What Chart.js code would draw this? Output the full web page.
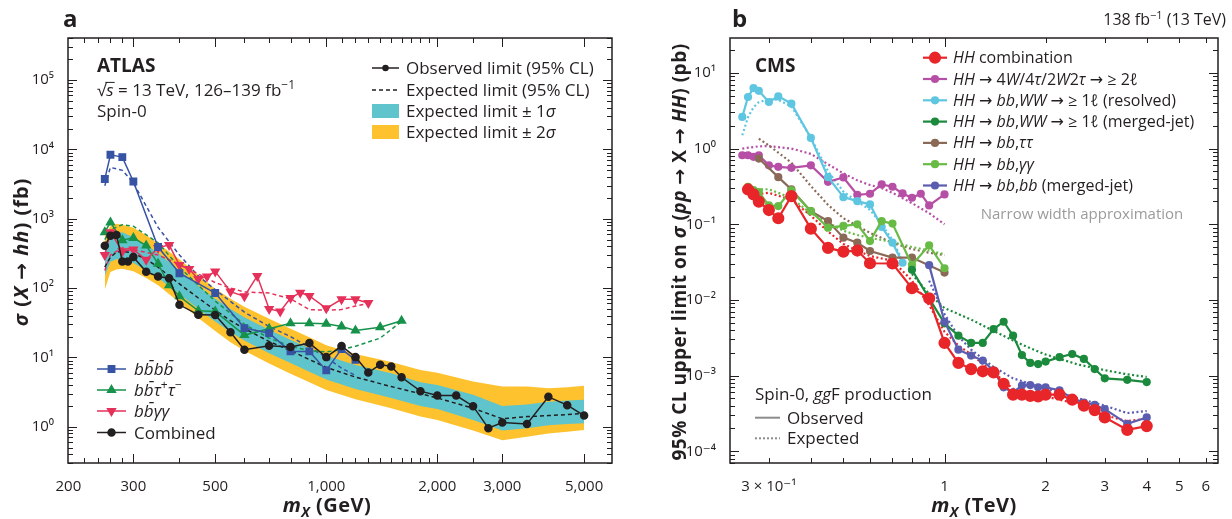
<!DOCTYPE html>
<html>
<head>
<meta charset="utf-8">
<script src="https://cdn.jsdelivr.net/npm/chart.js@4.4.1/dist/chart.umd.min.js"></script>
<style>
  body { margin: 0; background: #fff; }
  #wrap { position: relative; width: 1232px; height: 519px; }
  canvas { position: absolute; top: 0; }
  #cA { left: 0; }
  #cB { left: 640px; }
</style>
</head>
<body>
<div id="wrap">
  <canvas id="cA" width="640" height="519"></canvas>
  <canvas id="cB" width="592" height="519"></canvas>
</div>
<script>
const FONT = "'Open Sans', 'DejaVu Sans', sans-serif";
const INK = '#231f20';

// ---- panel a (ATLAS), mX in GeV, sigma in fb ----
const bandMass = [251, 260, 270, 280, 300, 325, 350, 400, 450, 500, 550, 600, 700, 800, 900, 1000, 1200, 1500, 1800, 2000, 2500, 3000, 3500, 4000, 4500, 5000];
const expCombined = [200, 280, 330, 340, 320, 260, 200, 115, 72, 48, 34, 26, 17, 12.5, 9.3, 7.2, 5.2, 3.8, 3.0, 2.6, 1.85, 1.3, 1.4, 1.45, 1.5, 1.55];
const sigma1Hi = [380, 520, 620, 640, 540, 420, 320, 180, 108, 70, 50, 38, 25, 18, 13.6, 10.6, 7.8, 5.9, 4.4, 4.0, 2.9, 2.0, 2.1, 2.3, 2.4, 2.45];
const sigma1Lo = [150, 240, 260, 260, 230, 180, 140, 82, 50, 33, 23, 17.5, 11.5, 8.3, 6.2, 4.8, 3.5, 2.6, 2.0, 1.8, 1.25, 0.88, 0.95, 1.05, 1.1, 1.12];
const sigma2Hi = [560, 780, 850, 820, 740, 580, 440, 260, 155, 98, 70, 54, 36, 26, 19.5, 15, 11.2, 8.6, 6.6, 6.0, 4.5, 3.8, 3.8, 3.6, 3.7, 3.9];
const sigma2Lo = [95, 170, 185, 190, 175, 140, 110, 62, 37, 24, 16.5, 12.5, 8.2, 5.8, 4.4, 3.4, 2.5, 1.85, 1.4, 1.25, 0.88, 0.64, 0.72, 0.8, 0.85, 0.9];

const combMass = [251, 260, 270, 280, 290, 300, 325, 350, 375, 400, 450, 500, 550, 600, 700, 800, 900, 1000, 1100, 1200, 1300, 1400, 1500, 1600, 1800, 2000, 2250, 2500, 2750, 3000, 3500, 4000, 4500, 5000];
const combObs = [407, 569, 582, 242, 242, 280, 172, 147, 139, 57.4, 41.2, 41, 23, 12.9, 14.7, 14.1, 16.1, 10.1, 14.6, 10.1, 6.05, 7.87, 7.39, 5.17, 3.26, 2.82, 2.82, 1.98, 0.955, 1.15, 1.1, 2.7, 2.05, 1.45];

const b4Mass = [251, 260, 280, 300, 350, 400, 500, 600, 700, 800, 900, 1000, 1100, 1200];
const b4Obs = [3740, 8380, 7760, 3450, 391, 164, 85, 26.5, 22.4, 12.2, 12.2, 6.5, 13.2, 9.2];
const b4ExpMass = [251, 260, 280, 300, 350, 400, 450, 500, 600, 700, 800, 900, 1000, 1100, 1200];
const b4Exp = [3000, 5500, 5000, 3300, 750, 300, 150, 95, 45, 28, 20, 14, 10, 7, 5.5];

const btMass = [251, 260, 280, 300, 325, 350, 375, 400, 450, 500, 600, 700, 800, 900, 1000, 1100, 1200, 1400, 1600];
const btObs = [640, 885, 490, 530, 410, 225, 110, 76, 47, 46, 21, 26, 31, 31, 30.5, 28, 24.4, 27.3, 33.7];
const btExpMass = [251, 260, 280, 300, 350, 400, 450, 500, 600, 700, 800, 900, 1000, 1100, 1200, 1400, 1600];
const btExp = [500, 700, 820, 780, 450, 200, 110, 65, 30, 19, 14.5, 12.5, 12, 13, 14.5, 19, 33];

const bgMass = [251, 260, 280, 300, 325, 350, 375, 400, 425, 450, 475, 500, 550, 600, 650, 700, 750, 800, 850, 900, 1000, 1100, 1200, 1300];
const bgObs = [300, 640, 340, 360, 256, 380, 420, 215, 188, 135, 147, 174, 89, 76, 150, 50, 46, 72, 86, 77, 51, 69, 69, 61];
const bgExpMass = [251, 260, 280, 300, 350, 400, 450, 500, 550, 600, 700, 800, 900, 1000, 1100, 1200, 1300];
const bgExp = [180, 300, 380, 360, 300, 220, 160, 120, 100, 88, 85, 70, 49, 48, 49, 55, 60];

const atlasXTicks = [200, 300, 500, 1000, 2000, 3000, 5000];
const atlasXMinor = [220, 240, 260, 280, 400, 600, 700, 800, 900, 1100, 1200, 1300, 1400, 1500, 1600, 1700, 1800, 1900, 2500];
const atlasYTicks = [1, 10, 100, 1000, 10000, 100000];

// ---- panel b (CMS), mX in TeV, sigma in pb ----
const hhMass = [0.26, 0.27, 0.28, 0.30, 0.32, 0.35, 0.40, 0.45, 0.50, 0.55, 0.60, 0.70, 0.80, 0.90, 1.0, 1.1, 1.2, 1.3, 1.4, 1.5, 1.6, 1.7, 1.8, 1.9, 2.0, 2.2, 2.4, 2.6, 2.8, 3.0, 3.5, 4.0];
const hhObs = [0.288, 0.248, 0.199, 0.154, 0.12, 0.235, 0.0875, 0.0487, 0.0435, 0.0449, 0.0305, 0.0303, 0.0143, 0.0105, 0.0027, 0.00147, 0.00122, 0.00114, 0.0011, 0.00078, 0.00056, 0.00056, 0.00054, 0.00053, 0.00056, 0.00056, 0.00048, 0.0004, 0.00035, 0.00028, 0.000192, 0.000215];
const hhExpMass = [0.26, 0.30, 0.35, 0.40, 0.45, 0.50, 0.55, 0.60, 0.70, 0.80, 0.90, 1.0, 1.1, 1.2, 1.4, 1.6, 1.8, 2.0, 2.5, 3.0, 3.5, 4.0];
const hhExp = [0.24, 0.26, 0.21, 0.13, 0.08, 0.055, 0.045, 0.038, 0.033, 0.018, 0.0085, 0.0038, 0.0025, 0.0019, 0.0011, 0.00067, 0.00058, 0.00053, 0.00042, 0.0003, 0.00025, 0.00027];

const mlMass = [0.25, 0.26, 0.27, 0.28, 0.30, 0.32, 0.35, 0.40, 0.45, 0.50, 0.55, 0.60, 0.65, 0.70, 0.75, 0.80, 0.85, 0.90, 1.0];
const mlObs = [0.816, 0.816, 0.777, 0.816, 0.6, 0.574, 0.557, 0.6, 0.364, 0.415, 0.245, 0.253, 0.336, 0.313, 0.255, 0.224, 0.253, 0.177, 0.248];
const mlExpMass = [0.25, 0.28, 0.30, 0.35, 0.40, 0.45, 0.50, 0.55, 0.60, 0.65, 0.70, 0.80, 0.90, 1.0];
const mlExp = [1.0, 1.07, 1.08, 1.0, 0.85, 0.62, 0.47, 0.38, 0.33, 0.3, 0.26, 0.19, 0.14, 0.1];

const rsMass = [0.25, 0.26, 0.27, 0.28, 0.30, 0.32, 0.35, 0.40, 0.45, 0.50, 0.55, 0.60, 0.65, 0.70, 0.75];
const rsObs = [2.62, 4.8, 6.3, 5.8, 4.12, 4.89, 3.92, 1.38, 0.419, 0.228, 0.202, 0.183, 0.092, 0.057, 0.031];
const rsExp = [1.5, 2.6, 3.5, 4.1, 4.5, 4.4, 3.6, 1.4, 0.5, 0.27, 0.2, 0.155, 0.1, 0.062, 0.033];

const mjMass = [0.8, 0.9, 1.0, 1.1, 1.2, 1.3, 1.4, 1.5, 1.6, 1.7, 1.8, 1.9, 2.0, 2.2, 2.4, 2.6, 2.8, 3.0, 3.5, 4.0];
const mjObs = [0.025, 0.0105, 0.0049, 0.00337, 0.0027, 0.0027, 0.00412, 0.00515, 0.00337, 0.00187, 0.00147, 0.00142, 0.00153, 0.00175, 0.00193, 0.00166, 0.00122, 0.00092, 0.00088, 0.00082];
const mjExpMass = [0.8, 0.9, 1.0, 1.2, 1.4, 1.6, 1.8, 2.0, 2.5, 3.0, 3.5, 4.0];
const mjExp = [0.022, 0.012, 0.0078, 0.0055, 0.0039, 0.0029, 0.0023, 0.0019, 0.0014, 0.00118, 0.00104, 0.00096];

const ttMass = [0.28, 0.32, 0.35, 0.40, 0.45, 0.50, 0.55, 0.60, 0.70, 0.80, 1.0];
const ttObs = [0.738, 0.419, 0.288, 0.149, 0.11, 0.0665, 0.0571, 0.0443, 0.0363, 0.0363, 0.023];
const ttExpMass = [0.28, 0.30, 0.35, 0.40, 0.45, 0.50, 0.55, 0.60, 0.70, 0.80, 0.90, 1.0];
const ttExp = [1.35, 1.1, 0.65, 0.32, 0.18, 0.12, 0.095, 0.077, 0.057, 0.047, 0.042, 0.039];

const ggMass = [0.26, 0.27, 0.28, 0.30, 0.32, 0.35, 0.40, 0.45, 0.50, 0.55, 0.60, 0.65, 0.70, 0.80, 0.90, 1.0];
const ggObs = [0.313, 0.282, 0.266, 0.177, 0.174, 0.28, 0.149, 0.09, 0.095, 0.0997, 0.06, 0.11, 0.102, 0.029, 0.0527, 0.0262];
const ggExp = [0.27, 0.29, 0.29, 0.29, 0.26, 0.22, 0.14, 0.105, 0.082, 0.072, 0.066, 0.062, 0.058, 0.05, 0.045, 0.04];

const bbMass = [0.9, 1.0, 1.1, 1.2, 1.3, 1.4, 1.5, 1.6, 1.7, 1.8, 1.9, 2.0, 2.2, 2.4, 2.6, 2.8, 3.0, 3.5, 4.0];
const bbObs = [0.0288, 0.00515, 0.0022, 0.00184, 0.00158, 0.00116, 0.0007, 0.0006, 0.00074, 0.00075, 0.0007, 0.0007, 0.00064, 0.0005, 0.00044, 0.00041, 0.00036, 0.00023, 0.00028];
const bbExpMass = [0.9, 1.0, 1.1, 1.2, 1.4, 1.6, 1.8, 2.0, 2.5, 3.0, 3.5, 4.0];
const bbExp = [0.018, 0.0065, 0.0033, 0.0022, 0.0013, 0.00092, 0.00078, 0.00068, 0.0005, 0.0004, 0.00032, 0.00034];

const cmsXTicks = [0.3, 1, 2, 3, 4, 5, 6];
const cmsXMinor = [0.4, 0.5, 0.6, 0.7, 0.8, 0.9];
const cmsYTicks = [1e-4, 1e-3, 1e-2, 1e-1, 1, 10];

// colours
const C = {
  blue: '#3653a4', green: '#17924a', pink: '#e5315a', cyanBand: '#5fc4cb', yellowBand: '#fdc22e',
  red: '#e8262a', magenta: '#b64fa5', cyan: '#5ec6e0', dkgreen: '#1b8a3c', brown: '#8a6a57', ltgreen: '#68bb45', purple: '#5b5db0'
};

Chart.defaults.font.family = FONT;
Chart.defaults.color = INK;

const xy = (xs, ys) => xs.map((x, i) => ({ x, y: ys[i] }));
const SUP = { '0': '⁰', '1': '¹', '2': '²', '3': '³', '4': '⁴', '5': '⁵', '6': '⁶', '7': '⁷', '8': '⁸', '9': '⁹', '-': '⁻' };
const pow10 = v => '10' + String(Math.round(Math.log10(v))).split('').map(c => SUP[c]).join('');
const gev = v => v >= 1000 ? v.toLocaleString('en-US') : String(v);

//Rich text: segments of [text, flags]; b bold, i italic, ^ sup, _ sub, o overline
function drawRich(ctx, segs, x, y, size, align, color, spacing) {
  const fontOf = f => `${f.includes('i') ? 'italic ' : ''}${f.includes('b') ? 'bold ' : ''}${(f.includes('^') || f.includes('_')) ? Math.round(size * 0.68) : size}px ${FONT}`;
  ctx.save();
  ctx.letterSpacing = (spacing || 0) + 'px';
  let w = 0;
  segs.forEach(([t, f = '']) => { ctx.font = fontOf(f); w += ctx.measureText(t).width; });
  let cx = align === 'center' ? x - w / 2 : align === 'right' ? x - w : x;
  ctx.fillStyle = color || INK;
  ctx.strokeStyle = color || INK;
  ctx.textAlign = 'left';
  ctx.textBaseline = 'alphabetic';
  segs.forEach(([t, f = '']) => {
    ctx.font = fontOf(f);
    const dy = f.includes('^') ? -size * 0.4 : f.includes('_') ? size * 0.25 : 0;
    ctx.fillText(t, cx, y + dy);
    const tw = ctx.measureText(t).width;
    if (f.includes('o')) {
      ctx.lineWidth = 1;
      ctx.beginPath(); ctx.moveTo(cx - 1, y - size * 0.8); ctx.lineTo(cx + tw + 1, y - size * 0.8); ctx.stroke();
    }
    cx += tw;
  });
  ctx.restore();
}

function rotated(ctx, segs, x, y, size, spacing) {
  ctx.save();
  ctx.translate(x, y);
  ctx.rotate(-Math.PI / 2);
  drawRich(ctx, segs, 0, size * 0.35, size, 'center', INK, spacing);
  ctx.restore();
}

function symbol(ctx, x1, x2, y, color, o) {
  ctx.save();
  ctx.strokeStyle = color; ctx.fillStyle = color; ctx.lineWidth = o.w || 1.5;
  ctx.setLineDash(o.dash || []);
  ctx.beginPath(); ctx.moveTo(x1, y); ctx.lineTo(x2, y); ctx.stroke();
  ctx.setLineDash([]);
  if (o.point) Chart.helpers.drawPoint(ctx, { pointStyle: o.point, radius: o.r, rotation: o.rot || 0, borderWidth: 1 }, (x1 + x2) / 2, y);
  ctx.restore();
}

function drawFrame(chart, xMajor, xMinor) {
  const { ctx, chartArea: a, scales: { x, y } } = chart;
  ctx.save();
  ctx.strokeStyle = INK; ctx.lineWidth = 1;
  ctx.beginPath();
  const vx = (v, len) => { const p = Math.round(x.getPixelForValue(v)) + 0.5; ctx.moveTo(p, a.bottom); ctx.lineTo(p, a.bottom - len); ctx.moveTo(p, a.top); ctx.lineTo(p, a.top + len); };
  const hy = (v, len) => { const p = Math.round(y.getPixelForValue(v)) + 0.5; ctx.moveTo(a.left, p); ctx.lineTo(a.left + len, p); ctx.moveTo(a.right, p); ctx.lineTo(a.right - len, p); };
  xMajor.forEach(v => vx(v, 9));
  xMinor.forEach(v => vx(v, 5));
  const lo = Math.floor(Math.log10(y.min)), hi = Math.ceil(Math.log10(y.max));
  for (let d = lo; d <= hi; d++) {
    for (let k = 1; k <= 9; k++) {
      const v = k * Math.pow(10, d);
      if (v > y.min && v < y.max) hy(v, k === 1 ? 9 : 5);
    }
  }
  ctx.stroke();
  ctx.lineWidth = 1.5;
  ctx.strokeRect(a.left, a.top, a.right - a.left, a.bottom - a.top);
  ctx.restore();
}

function logScales(o) {
  return {
    x: {
      type: 'logarithmic', min: o.xMin, max: o.xMax,
      afterBuildTicks: s => { s.ticks = o.xTicks.map(v => ({ value: v })); },
      afterFit: s => { s.height = o.xH; },
      ticks: { display: o.xLabels, autoSkip: false, maxRotation: 0, padding: 7, color: INK, font: { size: 15 }, callback: o.xFmt },
      grid: { display: false }, border: { display: false }
    },
    y: {
      type: 'logarithmic', min: o.yMin, max: o.yMax,
      afterBuildTicks: s => { s.ticks = o.yTicks.map(v => ({ value: v })); },
      afterFit: s => { s.width = o.yW; },
      ticks: { autoSkip: false, padding: 6, color: INK, font: { size: 15 }, callback: v => pow10(v) },
      grid: { display: false }, border: { display: false }
    }
  };
}

const line = (data, color, extra) => Object.assign({
  data, borderColor: color, backgroundColor: color, borderWidth: 1.5, pointRadius: 0, tension: 0, fill: false
}, extra);

// ---------------- panel a ----------------
const atlasPlugin = {
  id: 'atlasText',
  afterDraw(chart) {
    const ctx = chart.ctx, sx = chart.scales.x;
    drawFrame(chart, atlasXTicks.slice(1), atlasXMinor);
    //x tick labels placed by the log scale
    atlasXTicks.forEach(v => drawRich(ctx, [[gev(v), '']], sx.getPixelForValue(v), 491, 15, 'center'));

    drawRich(ctx, [['a', 'b']], 63, 27, 24, 'left');
    drawRich(ctx, [['ATLAS', 'b']], 97, 72, 19, 'left');
    drawRich(ctx, [['√', ''], ['s', 'io'], [' = 13 TeV, 126–139 fb', ''], ['−1', '^']], 97, 96, 17, 'left');
    drawRich(ctx, [['Spin-0', '']], 97, 117, 17, 'left');

    const rows = [68, 90, 111, 132];
    symbol(ctx, 372, 399, rows[0], INK, { point: 'circle', r: 2.5 });
    symbol(ctx, 372, 399, rows[1], INK, { dash: [4, 3] });
    ctx.save();
    ctx.fillStyle = C.cyanBand; ctx.fillRect(372, rows[2] - 7, 27, 14);
    ctx.fillStyle = C.yellowBand; ctx.fillRect(372, rows[3] - 7, 27, 14);
    ctx.restore();
    drawRich(ctx, [['Observed limit (95% CL)', '']], 406, rows[0] + 6, 17, 'left');
    drawRich(ctx, [['Expected limit (95% CL)', '']], 406, rows[1] + 6, 17, 'left');
    drawRich(ctx, [['Expected limit ± 1', ''], ['σ', 'i']], 406, rows[2] + 6, 17, 'left');
    drawRich(ctx, [['Expected limit ± 2', ''], ['σ', 'i']], 406, rows[3] + 6, 17, 'left');

    const r2 = [369, 390, 411, 432.5];
    symbol(ctx, 97, 126, r2[0], C.blue, { point: 'rect', r: 4.5 });
    symbol(ctx, 97, 126, r2[1], C.green, { point: 'triangle', r: 4.5 });
    symbol(ctx, 97, 126, r2[2], C.pink, { point: 'triangle', r: 4.5, rot: 180 });
    symbol(ctx, 97, 126, r2[3], INK, { point: 'circle', r: 3.5 });
    drawRich(ctx, [['bb̄bb̄', 'i']], 134, r2[0] + 6, 17, 'left');
    drawRich(ctx, [['bb̄τ', 'i'], ['+', '^'], ['τ', 'i'], ['−', '^']], 134, r2[1] + 6, 17, 'left');
    drawRich(ctx, [['bb̄γγ', 'i']], 134, r2[2] + 6, 17, 'left');
    drawRich(ctx, [['Combined', '']], 134, r2[3] + 6, 17, 'left');

    rotated(ctx, [['σ', 'bi'], [' (', 'b'], ['X', 'bi'], [' → ', 'b'], ['hh', 'bi'], [') (fb)', 'b']], 21, 252, 20, 1);
    drawRich(ctx, [['m', 'bi'], ['X', 'bi_'], [' (GeV)', 'b']], 327, 512, 20, 'center', INK, 0.5);
  }
};

new Chart(document.getElementById('cA'), {
  type: 'line',
  data: {
    datasets: [
      line(xy(bandMass, sigma2Hi), C.yellowBand, { borderWidth: 0, order: 20 }),
      line(xy(bandMass, sigma2Lo), C.yellowBand, { borderWidth: 0, order: 20, fill: '-1' }),
      line(xy(bandMass, sigma1Hi), C.cyanBand, { borderWidth: 0, order: 19 }),
      line(xy(bandMass, sigma1Lo), C.cyanBand, { borderWidth: 0, order: 19, fill: '-1' }),
      line(xy(b4ExpMass, b4Exp), C.blue, { borderDash: [4, 3], order: 12 }),
      line(xy(btExpMass, btExp), C.green, { borderDash: [4, 3], order: 11 }),
      line(xy(bgExpMass, bgExp), C.pink, { borderDash: [4, 3], order: 10 }),
      line(xy(bandMass, expCombined), INK, { borderDash: [4, 3], order: 9 }),
      line(xy(btMass, btObs), C.green, { pointRadius: 4.5, pointStyle: 'triangle', order: 5 }),
      line(xy(bgMass, bgObs), C.pink, { pointRadius: 4.5, pointStyle: 'triangle', pointRotation: 180, order: 4 }),
      line(xy(b4Mass, b4Obs), C.blue, { pointRadius: 4.5, pointStyle: 'rect', order: 3 }),
      line(xy(combMass, combObs), INK, { pointRadius: 3.5, pointStyle: 'circle', order: 1 })
    ]
  },
  options: {
    responsive: false, animation: false,
    layout: { padding: { left: 0, top: 38, right: 28, bottom: 0 } },
    plugins: { legend: { display: false }, tooltip: { enabled: false } },
    scales: logScales({
      xMin: 199.5, xMax: 5950, xTicks: atlasXTicks, xH: 56, xLabels: false, xFmt: gev,
      yMin: 0.304, yMax: 4.05e5, yTicks: atlasYTicks, yW: 68
    })
  },
  plugins: [atlasPlugin]
});

// ---------------- panel b ----------------
const OX = 640;
const cmsPlugin = {
  id: 'cmsText',
  afterDraw(chart) {
    const ctx = chart.ctx;
    drawFrame(chart, [1], cmsXMinor.concat([0.3, 2, 3, 4, 5, 6]));
    drawRich(ctx, [['b', 'b']], 732 - OX, 27, 24, 'left');
    drawRich(ctx, [['138 fb', ''], ['−1', '^'], [' (13 TeV)', '']], 1226 - OX, 25, 16, 'right');
    drawRich(ctx, [['CMS', 'b']], 755 - OX, 72, 19, 'left');

    const rows = [57.7, 79, 100.3, 121.6, 142.9, 164.2, 185.5];
    const items = [
      [C.red, 5, [['HH', 'i'], [' combination', '']]],
      [C.magenta, 3, [['HH', 'i'], [' → 4', ''], ['W', 'i'], ['/4', ''], ['τ', 'i'], ['/2', ''], ['W', 'i'], ['2', ''], ['τ', 'i'], [' → ≥ 2', ''], ['ℓ', 'i']]],
      [C.cyan, 3, [['HH', 'i'], [' → ', ''], ['bb', 'i'], [',', ''], ['WW', 'i'], [' → ≥ 1', ''], ['ℓ', 'i'], [' (resolved)', '']]],
      [C.dkgreen, 3, [['HH', 'i'], [' → ', ''], ['bb', 'i'], [',', ''], ['WW', 'i'], [' → ≥ 1', ''], ['ℓ', 'i'], [' (merged-jet)', '']]],
      [C.brown, 3, [['HH', 'i'], [' → ', ''], ['bb', 'i'], [',', ''], ['ττ', 'i']]],
      [C.ltgreen, 3, [['HH', 'i'], [' → ', ''], ['bb', 'i'], [',', ''], ['γγ', 'i']]],
      [C.purple, 3, [['HH', 'i'], [' → ', ''], ['bb', 'i'], [',', ''], ['bb', 'i'], [' (merged-jet)', '']]]
    ];
    items.forEach(([col, r, segs], i) => {
      symbol(ctx, 923 - OX, 947 - OX, rows[i], col, { point: 'circle', r, w: 2.2 });
      drawRich(ctx, segs, 953 - OX, rows[i] + 5.5, 16, 'left');
    });
    drawRich(ctx, [['Narrow width approximation', '']], 1082 - OX, 219, 15, 'center', '#9b9b9b');

    drawRich(ctx, [['Spin-0, ', ''], ['gg', 'i'], ['F production', '']], 755 - OX, 400, 17, 'left');
    symbol(ctx, 755 - OX, 780 - OX, 417.7, '#8c8c8c', { w: 2 });
    symbol(ctx, 755 - OX, 780 - OX, 438.3, '#8c8c8c', { w: 2, dash: [2, 2] });
    drawRich(ctx, [['Observed', '']], 787 - OX, 423.5, 17, 'left');
    drawRich(ctx, [['Expected', '']], 787 - OX, 444, 17, 'left');

    rotated(ctx, [['95% CL upper limit on ', 'b'], ['σ', 'bi'], [' (', 'b'], ['pp', 'bi'], [' → X → ', 'b'], ['HH', 'bi'], [') (pb)', 'b']], 679 - OX, 252, 19, 0.5);
    drawRich(ctx, [['m', 'bi'], ['X', 'bi_'], [' (TeV)', 'b']], 974 - OX, 512, 20, 'center', INK, 0.5);
  }
};

const dotted = (data, color, order) => line(data, color, { borderWidth: 2.2, borderDash: [2, 2.5], order });
const solid = (data, color, r, order) => line(data, color, { borderWidth: 2.2, pointRadius: r, pointStyle: 'circle', order });

new Chart(document.getElementById('cB'), {
  type: 'line',
  data: {
    datasets: [
      dotted(xy(mlExpMass, mlExp), C.magenta, 30),
      dotted(xy(rsMass, rsExp), C.cyan, 29),
      dotted(xy(ttExpMass, ttExp), C.brown, 28),
      dotted(xy(ggMass, ggExp), C.ltgreen, 27),
      dotted(xy(mjExpMass, mjExp), C.dkgreen, 26),
      dotted(xy(bbExpMass, bbExp), C.purple, 25),
      dotted(xy(hhExpMass, hhExp), C.red, 24),
      solid(xy(mlMass, mlObs), C.magenta, 3, 10),
      solid(xy(rsMass, rsObs), C.cyan, 3, 9),
      solid(xy(ttMass, ttObs), C.brown, 3, 8),
      solid(xy(ggMass, ggObs), C.ltgreen, 3, 7),
      solid(xy(mjMass, mjObs), C.dkgreen, 3, 6),
      solid(xy(bbMass, bbObs), C.purple, 3, 5),
      solid(xy(hhMass, hhObs), C.red, 5, 1)
    ]
  },
  options: {
    responsive: false, animation: false,
    layout: { padding: { left: 0, top: 38, right: 14, bottom: 0 } },
    plugins: { legend: { display: false }, tooltip: { enabled: false } },
    scales: logScales({
      xMin: 0.2298, xMax: 6.52, xTicks: cmsXTicks, xH: 56, xLabels: true,
      xFmt: v => v === 0.3 ? '3 × 10⁻¹' : String(v),
      yMin: 7.3e-5, yMax: 28.9, yTicks: cmsYTicks, yW: 90
    })
  },
  plugins: [cmsPlugin]
});
</script>
</body>
</html>
